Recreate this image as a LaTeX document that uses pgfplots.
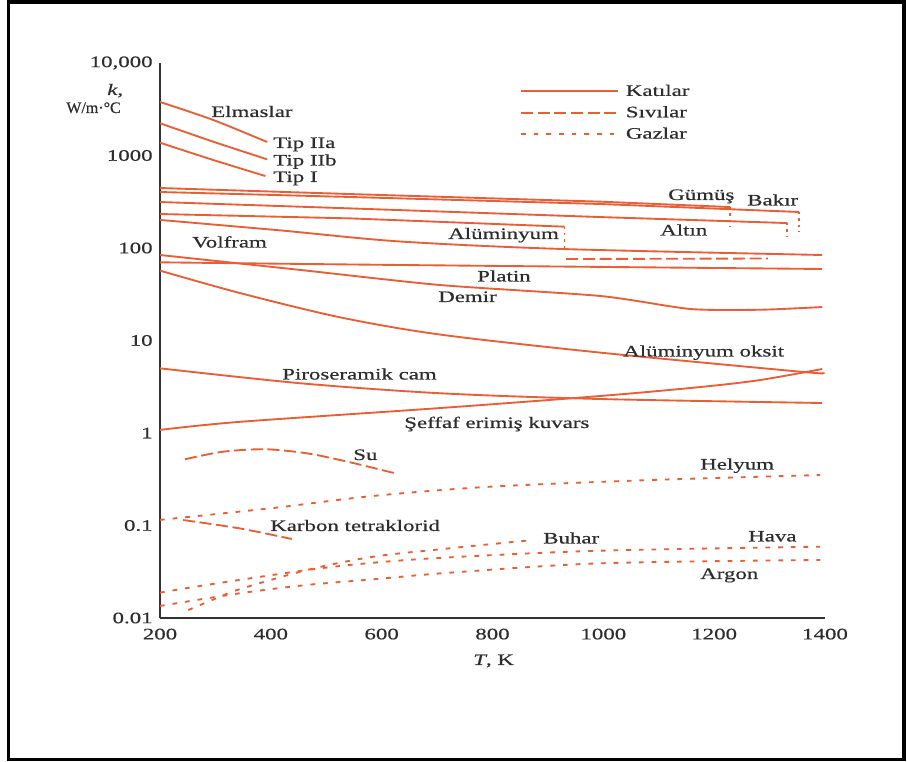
\documentclass[border=0pt]{standalone}
\usepackage{fontspec}
\setmainfont{Liberation Serif}[FakeStretch=1.43, FakeBold=0.5]
\usepackage{pgfplots}
\pgfplotsset{compat=1.18}
\definecolor{mc}{RGB}{234,94,54}
\definecolor{tc}{RGB}{45,45,45}
\tikzset{
  sol/.style={mc, line width=1.4pt},
  liq/.style={mc, line width=1.4pt, dash pattern=on 9pt off 3.5pt},
  gas/.style={mc, line width=1.4pt, dash pattern=on 3.5pt off 6pt},
  melt/.style={mc, line width=1.4pt, dash pattern=on 1.8pt off 3pt},
  lab/.style={font=\fontsize{12}{14}\selectfont, text=tc, anchor=base west, inner sep=0pt},
}
\begin{document}
\begin{tikzpicture}
\begin{scope}[x=0.75pt,y=-0.75pt,shift={(-120pt,463.5pt)}]
\useasboundingbox (0,0) rectangle (907,762);
\draw[line width=2.5pt, black] (8.5,2) rectangle (904,759.5);
\end{scope}
\begin{axis}[
  at={(0,0)}, anchor=south west,
  scale only axis, width=498.75pt, height=416.25pt,
  xmin=200, xmax=1400, ymin=0.01, ymax=10000, ymode=log,
  axis x line=bottom, axis y line=left,
  axis line style={-, draw=black!80, line width=0.9pt},
  major tick length=0pt, minor tick length=0pt,
  xtick={200,400,600,800,1000,1200,1400},
  xticklabels={200,400,600,800,1000,1200,1400},
  ytick={0.01,0.1,1,10,100,1000,10000},
  yticklabels={0.01,0.1,1,10,100,1000,{10,000}},
  /pgf/number format/assume math mode=true,
  tick label style={font=\fontsize{12}{14}\selectfont, text=tc},
  xticklabel style={yshift=-4.5pt},
  yticklabel style={xshift=-2pt},
  legend image code/.code={\draw[#1] (0pt,0pt) -- (73pt,0pt);},
  legend cell align=left,
  legend style={at={(rel axis cs:0.541,0.966)}, anchor=north west, draw=none, fill=none,
    font=\fontsize{12}{14}\selectfont, text=tc, row sep=2.2pt, column sep=3pt, inner sep=0pt},
]
\addlegendimage{sol}\addlegendentry{Katılar}
\addlegendimage{liq}\addlegendentry{Sıvılar}
\addlegendimage{gas}\addlegendentry{Gazlar}

% Diamonds
\addplot[sol, smooth] coordinates {(200,3790) (296,2420) (393,1400)};
\addplot[sol, smooth] coordinates {(200,2230) (296,1410) (393,910)};
\addplot[sol, smooth] coordinates {(200,1375) (296,894) (390,600)};
% Silver
\addplot[sol] coordinates {(200,445) (543,383) (994,317) (1229,277)};
\addplot[melt] coordinates {(1229,277) (1229,169)};
% Copper
\addplot[sol] coordinates {(200,403) (543,356) (994,299) (1353,245)};
\addplot[melt] coordinates {(1353,245) (1353,149)};
% Gold
\addplot[sol] coordinates {(200,314) (543,268) (994,216) (1332,186)};
\addplot[melt] coordinates {(1332,186) (1332,135)};
% Aluminium
\addplot[sol] coordinates {(200,233) (543,209) (930,170)};
\addplot[melt] coordinates {(930,170) (930,100)};
\addplot[liq] coordinates {(933,76) (1297,77)};
% Tungsten
\addplot[sol, smooth] coordinates {(200,201) (417,155) (633,117.6) (927,97.5) (1395,84)};
% Platinum
\addplot[sol, smooth] coordinates {(200,70) (633,65.5) (1395,59.3)};
% Iron
\addplot[sol, smooth, tension=0.4] coordinates {(200,84) (453,57.9) (705,39.8) (994,30.3) (1157,21.9) (1283,21.5) (1395,23)};
% Aluminium oxide
\addplot[sol, smooth] coordinates {(200,56.9) (344,32.6) (525,17.8) (705,11.6) (994,7.4) (1355,4.6) (1395,4.45)};
% Pyroceram
\addplot[sol, smooth] coordinates {(200,5.0) (453,3.45) (705,2.69) (994,2.33) (1395,2.11)};
% Fused quartz
\addplot[sol, smooth] coordinates {(200,1.08) (344,1.32) (705,1.86) (994,2.51) (1175,3.14) (1283,3.74) (1395,4.92)};
% Water
\addplot[liq, smooth] coordinates {(245,0.52) (314,0.628) (390,0.667) (465,0.603) (538,0.49) (624,0.367)};
% CCl4
\addplot[liq, smooth] coordinates {(241.5,0.1146) (344,0.093) (438,0.0714)};
% Helium
\addplot[gas, smooth] coordinates {(200,0.115) (404,0.1546) (584,0.2085) (796,0.2626) (1084,0.31) (1391,0.351)};
% Steam
\addplot[gas, smooth] coordinates {(251,0.0122) (300,0.0162) (344,0.0205) (465,0.0330) (585,0.046) (723,0.0567) (873,0.0697)};
% Air
\addplot[gas, smooth] coordinates {(200,0.0188) (284,0.02275) (465,0.033) (585,0.0396) (723,0.0453) (994,0.0534) (1391,0.059)};
% Argon
\addplot[gas, smooth] coordinates {(200,0.0135) (344,0.0185) (465,0.02275) (585,0.0262) (723,0.0309) (994,0.039) (1391,0.0424)};
\end{axis}

\begin{scope}[x=0.75pt,y=-0.75pt,shift={(-120pt,463.5pt)}]
\node[lab] at (107,95) {\itshape k,};
\node[lab, anchor=base east] at (121,113) {\addfontfeature{FakeStretch=1.0}W/m·°C};
\node[lab] at (211,117) {Elmaslar};
\node[lab] at (273,148) {Tip IIa};
\node[lab] at (273,165.5) {Tip IIb};
\node[lab] at (273,182) {Tip I};
\node[lab] at (192,247.5) {Volfram};
\node[lab] at (668,200) {Gümüş};
\node[lab] at (747,205.5) {Bakır};
\node[lab] at (660,235.5) {Altın};
\node[lab] at (448,239) {Alüminyum};
\node[lab] at (477,281.5) {Platin};
\node[lab] at (438,302) {Demir};
\node[lab] at (623,356.5) {Alüminyum oksit};
\node[lab] at (282,379.5) {Piroseramik cam};
\node[lab] at (404,428) {Şeffaf erimiş kuvars};
\node[lab] at (353,460) {Su};
\node[lab] at (270,531) {Karbon tetraklorid};
\node[lab] at (700,469.5) {Helyum};
\node[lab] at (543,543.5) {Buhar};
\node[lab] at (748,541.5) {Hava};
\node[lab] at (700,579) {Argon};
\node[lab] at (473,665) {\itshape T\upshape, K};
\end{scope}
\end{tikzpicture}
\end{document}
